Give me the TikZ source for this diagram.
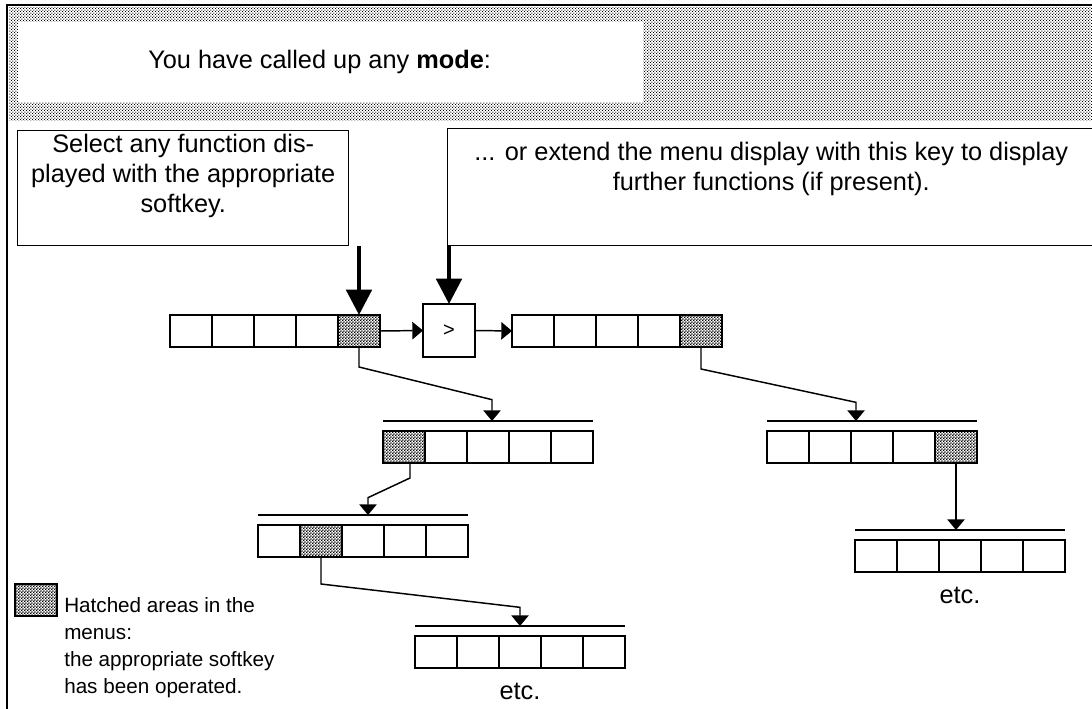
\documentclass[tikz,border=0pt]{standalone}
\usepackage{fontspec}
\setmainfont{Liberation Sans}
\usetikzlibrary{arrows.meta,positioning,patterns}
\pgfdeclarepatternformonly{finechecker}{\pgfpointorigin}{\pgfqpoint{2.4pt}{2.4pt}}
  {\pgfqpoint{2.4pt}{2.4pt}}{%
  \pgfpathrectangle{\pgfpointorigin}{\pgfqpoint{1.2pt}{1.2pt}}%
  \pgfpathrectangle{\pgfqpoint{1.2pt}{1.2pt}}{\pgfqpoint{1.2pt}{1.2pt}}%
  \pgfusepath{fill}}
\pgfdeclarepatternformonly{banddots}{\pgfpointorigin}{\pgfqpoint{2.2pt}{2.2pt}}
  {\pgfqpoint{2.2pt}{2.2pt}}{%
  \pgfpathrectangle{\pgfpointorigin}{\pgfqpoint{0.75pt}{0.75pt}}%
  \pgfpathrectangle{\pgfqpoint{1.1pt}{1.1pt}}{\pgfqpoint{0.75pt}{0.75pt}}%
  \pgfusepath{fill}}
\tikzset{
keycell/.style={rectangle,draw=black,line width=1.1pt,minimum width=31.5pt,
  minimum height=24pt,inner sep=0pt,outer sep=0pt},
plain/.style={},
hatched/.style={pattern=finechecker},
notebox/.style={rectangle,draw=black,line width=1.1pt,fill=white,align=center,
  inner ysep=0pt,font=\fontsize{19}{22.5}\selectfont},
thickarr/.style={line width=3pt,-{Triangle[width=19pt,length=19pt]}},
thinarr/.style={line width=1.1pt,-{Triangle[width=13pt,length=8pt]}},
menuline/.style={line width=1.1pt},
etclabel/.style={font=\fontsize{19}{22.5}\selectfont,below=8pt of #1}
}

\begin{document}
\begin{tikzpicture}[x=0.75pt,y=-0.75pt]
\useasboundingbox (0,0) rectangle (1092,709);
% mode band and frame
\fill[pattern=banddots] (9,8) rectangle (1096,121);
\fill[white] (18,22) rectangle (643,102);
\draw[line width=1.3pt] (7,712) -- (7,5) -- (1096,5);
\node[anchor=west,inner sep=0pt,font=\fontsize{19}{22.5}\selectfont] (mode) at (148,62)
  {You have called up any \textbf{mode}:};

% note boxes
\node[notebox,anchor=north west,minimum width=248.25pt,text height=61.5pt,text depth=24.75pt]
  (select) at (17,130) {Select any function dis-\\played with the appropriate\\softkey.};
\node[notebox,anchor=north west,minimum width=485.25pt,text height=46.5pt,text depth=41.25pt]
  (extend) at (447,128)
  {... or extend the menu display with this key to display\\further functions (if present).};

% menu rows
\foreach \i/\s in {1/plain,2/plain,3/plain,4/plain,5/hatched}
  \node[keycell,\s] (ma\i) at ({149+42*\i},331) {};
\node[keycell,minimum width=39pt,minimum height=39.75pt,font=\fontsize{15}{17}\selectfont]
  (more) at (449,330.5) {>};
\foreach \i/\s in {1/plain,2/plain,3/plain,4/plain,5/hatched}
  \node[keycell,\s] (mb\i) at ({491+42*\i},331) {};
\foreach \i/\s in {1/hatched,2/plain,3/plain,4/plain,5/plain}
  \node[keycell,\s] (mc\i) at ({362+42*\i},447) {};
\foreach \i/\s in {1/plain,2/plain,3/plain,4/plain,5/hatched}
  \node[keycell,\s] (md\i) at ({746+42*\i},447) {};
\foreach \i/\s in {1/plain,2/hatched,3/plain,4/plain,5/plain}
  \node[keycell,\s] (me\i) at ({237+42*\i},541) {};
\foreach \i in {1,...,5}
  \node[keycell] (mf\i) at ({834+42*\i},556) {};
\foreach \i in {1,...,5}
  \node[keycell] (mg\i) at ({394+42*\i},652) {};

% lines over the sub menus
\foreach \m in {mc,md,me,mf,mg}
  \draw[menuline] ([yshift=7.5pt]\m1.north west) -- ([yshift=7.5pt]\m5.north east);
\coordinate (mcin) at ([xshift=3pt,yshift=7.5pt]mc3.north);
\coordinate (mdin) at ([xshift=-12pt,yshift=7.5pt]md3.north);
\coordinate (mein) at ([xshift=3.75pt,yshift=7.5pt]me3.north);
\coordinate (mfin) at ([yshift=7.5pt]mf3.north);
\coordinate (mgin) at ([yshift=7.5pt]mg3.north);

\node[etclabel=mf3] (etcr) {etc.};
\node[etclabel=mg3] (etcb) {etc.};

% legend
\node[keycell,hatched] (legend) at (36,600) {};
\node[anchor=base west,align=left,inner sep=0pt,font=\fontsize{15.5}{20.25}\selectfont]
  (legtext) at (64,693) {Hatched areas in the\\menus:\\the appropriate softkey\\has been operated.};

% arrows
\draw[thickarr] (select.south -| ma5.north) -- (ma5.north);
\draw[thickarr] (extend.south -| more.north) -- (more.north);
\draw[thinarr] (ma5.east) -- (more.west);
\draw[thinarr] (more.east) -- (mb1.west);
\draw[thinarr] (ma5.south) -- ++(0,20) -- ([yshift=16pt]mcin) -- (mcin);
\draw[thinarr] (mb5.south) -- ++(0,22) -- ([yshift=14pt]mdin) -- (mdin);
\draw[thinarr] ([xshift=4.5pt]mc1.south) -- ++(0,15) -- ([yshift=13pt]mein) -- (mein);
\draw[thinarr] (me2.south) -- ++(0,27) -- ([yshift=14pt]mgin) -- (mgin);
\draw[thinarr] (md5.south) -- (md5.south |- mfin);
\end{tikzpicture}
\end{document}
